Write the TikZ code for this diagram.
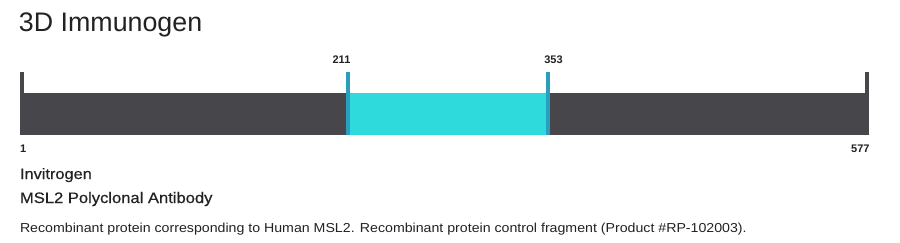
\documentclass[tikz,border=0pt]{standalone}
\usepackage{fontspec}
\setmainfont{Liberation Sans}
\newfontfamily\widefont[FakeStretch=1.09]{Liberation Sans}
\newfontfamily\widemedium[FakeStretch=1.09,FakeBold=0.6]{Liberation Sans}
\definecolor{bardark}{HTML}{46464B}
\definecolor{cyanfill}{HTML}{2EDADB}
\definecolor{tickblue}{HTML}{2A9EBD}
\definecolor{txt}{HTML}{222222}
\begin{document}
\begin{tikzpicture}[x=1pt,y=-1pt,
  lbl/.style={inner sep=0pt,outer sep=0pt,text=txt,font=\fontsize{11}{12}\selectfont\bfseries},
  txtline/.style={inner sep=0pt,outer sep=0pt,text=txt,anchor=base west}]
\useasboundingbox (0,0) rectangle (900,242);
% title
\node[txtline,font=\fontsize{26.8}{30}\selectfont] (title) at (19,31.5) {3D Immunogen};
% bar
\fill[bardark] (20,93) rectangle (869,135);
\fill[bardark] (20,72) rectangle (23.5,135);
\fill[bardark] (865,72) rectangle (869,135);
\fill[cyanfill] (350,93) rectangle (546,135);
\fill[tickblue] (346,72) rectangle (350,135);
\fill[tickblue] (546,72) rectangle (550,135);
% labels
\node[lbl,anchor=base] (l211) at (341.5,63) {211};
\node[lbl,anchor=base] (l353) at (553.5,63) {353};
\node[lbl,anchor=base west] (l1) at (20,152) {1};
\node[lbl,anchor=base east] (l577) at (869.5,152) {577};
% text lines
\node[txtline,font=\widemedium\fontsize{15}{17}\selectfont] (vendor) at (20,179) {Invitrogen};
\node[txtline,font=\widemedium\fontsize{15.2}{17}\selectfont] (product) at (20,203) {MSL2 Polyclonal Antibody};
\node[txtline,font=\widefont\fontsize{13}{15}\selectfont] (desc) at (20,232) {Recombinant protein corresponding to Human MSL2. Recombinant protein control fragment (Product \#RP-102003).};
\end{tikzpicture}
\end{document}
